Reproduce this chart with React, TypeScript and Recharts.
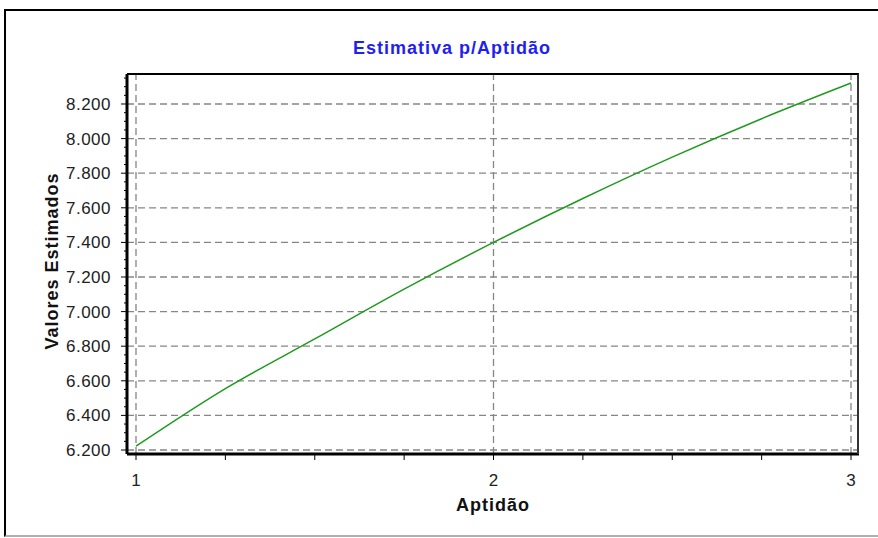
import { LineChart, Line, XAxis, YAxis, ReferenceLine } from "recharts";

// Aptidão (x) and estimated values
const aptidao = [1, 1.25, 1.5, 1.75, 2, 2.25, 2.5, 2.75, 3];
const valores = [6222, 6555, 6842, 7130, 7400, 7654, 7893, 8115, 8321];

const xTicks = [1, 1.25, 1.5, 1.75, 2, 2.25, 2.5, 2.75, 3];
const xLabels = [1, 2, 3];
const yMajor = [6200, 6400, 6600, 6800, 7000, 7200, 7400, 7600, 7800, 8000, 8200];
const yTicks = Array.from({ length: 44 }, (_, i) => 6200 + i * 50);

const data = aptidao.map((x, i) => ({ x, y: valores[i] }));

const FONT = '"Liberation Sans", Arial, sans-serif';
const GRID = "#868686";

const fmt = (v: number) =>
  `${Math.floor(v / 1000)}.${String(v % 1000).padStart(3, "0")}`;

const YTick = (props: any) => {
  const { x, y, payload } = props;
  const major = yMajor.includes(payload.value);
  const ax = x + 16;
  return (
    <g>
      <line x1={ax - (major ? 6 : 3)} x2={ax} y1={y} y2={y} stroke="#000" />
      {major && (
        <text
          x={x}
          y={y}
          dy="0.355em"
          textAnchor="end"
          fill="#222"
          style={{ fontFamily: FONT, fontSize: 17, letterSpacing: 0.5 }}
        >
          {fmt(payload.value)}
        </text>
      )}
    </g>
  );
};

const XTick = (props: any) => {
  const { x, y, payload } = props;
  if (!xLabels.includes(payload.value)) return <g />;
  return (
    <text
      x={x}
      y={y}
      dy="0.71em"
      textAnchor="middle"
      fill="#222"
      style={{ fontFamily: FONT, fontSize: 17 }}
    >
      {payload.value}
    </text>
  );
};

const boldText = {
  position: "absolute" as const,
  fontFamily: FONT,
  fontWeight: 700,
  fontSize: 18,
  letterSpacing: 1,
  lineHeight: "20px",
  whiteSpace: "nowrap" as const,
};

export default function App() {
  return (
    <div
      style={{
        position: "absolute",
        left: 0,
        top: 0,
        width: 878,
        height: 538,
        overflow: "hidden",
        background: "#fff",
      }}
    >
      <div
        style={{
          position: "absolute",
          left: 4,
          top: 9,
          width: 874,
          height: 528,
          boxSizing: "border-box",
          borderLeft: "2px solid #000",
          borderTop: "2px solid #000",
          borderBottom: "2px solid #b0b0b0",
        }}
      />
      <div style={{ position: "absolute", left: 0, top: 0 }}>
        <LineChart
          width={878}
          height={538}
          data={data}
          margin={{ top: 74, right: 19, bottom: 34, left: 47 }}
        >
          <XAxis
            dataKey="x"
            type="number"
            domain={[1, 3]}
            ticks={xTicks}
            interval={0}
            padding={{ left: 9, right: 8 }}
            tickSize={6}
            tickMargin={14}
            height={50}
            axisLine={{ stroke: "#000", strokeWidth: 3 }}
            tickLine={{ stroke: "#000" }}
            tick={<XTick />}
          />
          <YAxis
            type="number"
            domain={[6176.9, 8373.4]}
            allowDataOverflow
            ticks={yTicks}
            interval={0}
            width={80}
            tickSize={6}
            tickMargin={10}
            tickLine={false}
            axisLine={{ stroke: "#000", strokeWidth: 3 }}
            tick={<YTick />}
          />
          {yMajor.map((v) => (
            <ReferenceLine
              key={`h${v}`}
              y={v}
              stroke={GRID}
              strokeWidth={1.3}
              strokeDasharray="7 4"
            />
          ))}
          {xLabels.map((v) => (
            <ReferenceLine
              key={`v${v}`}
              x={v}
              stroke={GRID}
              strokeWidth={1.3}
              strokeDasharray="7 4"
            />
          ))}
          <Line
            dataKey="y"
            type="monotone"
            stroke="#1f9a1f"
            strokeWidth={1.5}
            dot={false}
            isAnimationActive={false}
          />
        </LineChart>
      </div>
      <div
        style={{
          position: "absolute",
          left: 127,
          top: 73,
          width: 732,
          height: 381,
          boxSizing: "border-box",
          borderTop: "2px solid #000",
          borderRight: "2px solid #333",
          pointerEvents: "none",
        }}
      />
      <div
        style={{
          ...boldText,
          left: 452,
          top: 38,
          transform: "translateX(-50%)",
          color: "#1f1ff0",
        }}
      >
        Estimativa p/Aptidão
      </div>
      <div
        style={{
          ...boldText,
          left: 493,
          top: 495,
          transform: "translateX(-50%)",
          color: "#111",
        }}
      >
        Aptidão
      </div>
      <div
        style={{
          ...boldText,
          left: 52,
          top: 261,
          transform: "translate(-50%, -50%) rotate(-90deg)",
          color: "#111",
        }}
      >
        Valores Estimados
      </div>
    </div>
  );
}
